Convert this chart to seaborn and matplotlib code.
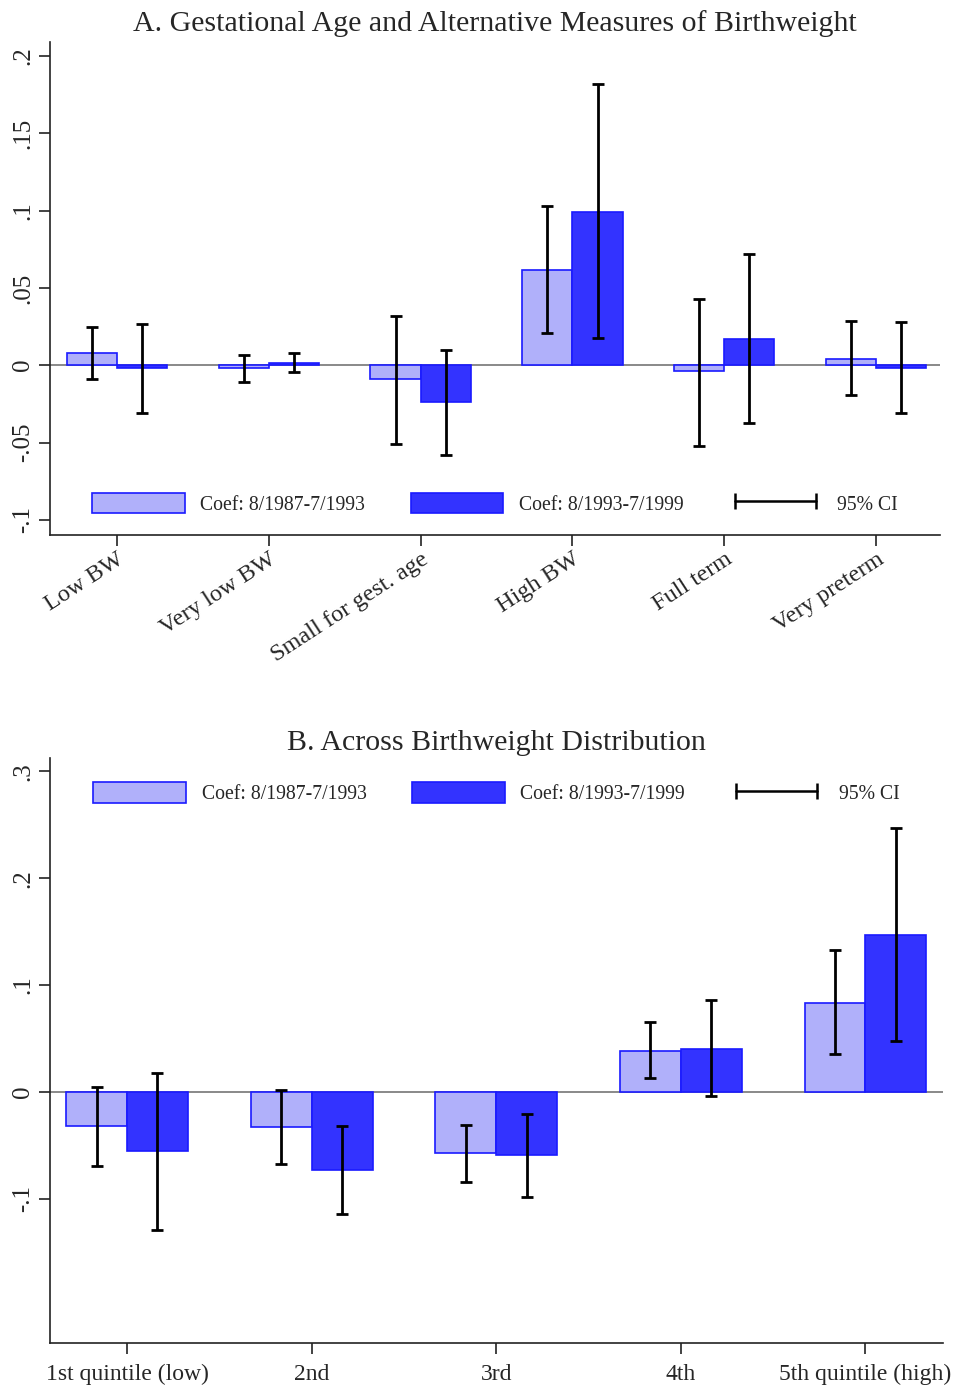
import numpy as np
import pandas as pd
import matplotlib
matplotlib.use("Agg")
import matplotlib.pyplot as plt
import seaborn as sns
from matplotlib.patches import Patch
from matplotlib.lines import Line2D

# ---------------- data ----------------
periods = ["Coef: 8/1987-7/1993", "Coef: 8/1993-7/1999"]

cats_a = ["Low BW", "Very low BW", "Small for gest. age", "High BW", "Full term", "Very preterm"]
coef_a_early = [0.008, -0.002, -0.009, 0.0615, -0.004, 0.004]
coef_a_late = [-0.002, 0.0015, -0.0235, 0.099, 0.017, -0.0015]
lo_a_early = [-0.009, -0.011, -0.051, 0.021, -0.0525, -0.0195]
hi_a_early = [0.025, 0.0065, 0.032, 0.103, 0.043, 0.0285]
lo_a_late = [-0.031, -0.0045, -0.058, 0.0175, -0.0375, -0.031]
hi_a_late = [0.0265, 0.008, 0.0097, 0.182, 0.072, 0.028]

cats_b = ["1st quintile (low)", "2nd", "3rd", "4th", "5th quintile (high)"]
coef_b_early = [-0.032, -0.033, -0.057, 0.0384, 0.083]
coef_b_late = [-0.055, -0.073, -0.059, 0.040, 0.147]
lo_b_early = [-0.069, -0.067, -0.084, 0.013, 0.0356]
hi_b_early = [0.0047, 0.0019, -0.031, 0.0655, 0.133]
lo_b_late = [-0.129, -0.114, -0.098, -0.004, 0.048]
hi_b_late = [0.0178, -0.032, -0.0206, 0.086, 0.247]

yticks_a = [-0.1, -0.05, 0, 0.05, 0.1, 0.15, 0.2]
yticklabels_a = ["-.1", "-.05", "0", ".05", ".1", ".15", ".2"]
yticks_b = [-0.1, 0, 0.1, 0.2, 0.3]
yticklabels_b = ["-.1", "0", ".1", ".2", ".3"]

title_a = "A. Gestational Age and Alternative Measures of Birthweight"
title_b = "B. Across Birthweight Distribution"

# ---------------- style ----------------
sns.set_theme(style="ticks")
plt.rcParams["font.family"] = ["Liberation Serif", "DejaVu Serif"]

light_fill = "#b0b0fa"
dark_fill = "#3333ff"
edge_col = "#1a1aff"

fig = plt.figure(figsize=(9.56, 13.88), dpi=100)
ax_a = fig.add_axes([0.0523, 0.6146, 0.931, 0.3552])
ax_b = fig.add_axes([0.0523, 0.0324, 0.9341, 0.4215])


def make_df(cats, early, late):
    return pd.DataFrame({
        "cat": cats * 2,
        "period": [periods[0]] * len(cats) + [periods[1]] * len(cats),
        "coef": list(early) + list(late),
    })


def draw(ax, cats, early, late, lo_e, hi_e, lo_l, hi_l, capsize):
    df = make_df(cats, early, late)
    sns.barplot(data=df, x="cat", y="coef", hue="period", order=cats,
                hue_order=periods, palette=[light_fill, dark_fill], saturation=1,
                width=0.66, edgecolor=edge_col, linewidth=1.2,
                errorbar=None, legend=False, ax=ax, zorder=2)
    ax.axhline(0, color="#808080", lw=1.3, zorder=1)
    for cont, lo, hi, val in zip(ax.containers, [lo_e, lo_l], [hi_e, hi_l], [early, late]):
        xs = [p.get_x() + p.get_width() / 2 for p in cont.patches]
        val = np.array(val)
        yerr = np.vstack([val - np.array(lo), np.array(hi) - val])
        ax.errorbar(xs, val, yerr=yerr, fmt="none", ecolor="black",
                    elinewidth=2.0, capsize=capsize, capthick=2.0, zorder=3)
    sns.despine(ax=ax)
    for s in ("left", "bottom"):
        ax.spines[s].set_linewidth(1.2)
        ax.spines[s].set_color("#222222")
    ax.set_xlabel("")
    ax.set_ylabel("")
    ax.tick_params(axis="both", direction="out", length=8, width=1.2, color="#222222")


def add_legend(ax, y):
    handles = [
        Patch(facecolor=light_fill, edgecolor=edge_col, linewidth=1.2),
        Patch(facecolor=dark_fill, edgecolor=edge_col, linewidth=1.2),
        Line2D([], [], color="black", lw=1.8, marker="|", markersize=11, markeredgewidth=1.8),
    ]
    labels = periods + ["95% CI"]
    ax.legend(handles, labels, loc="center", bbox_to_anchor=(0.5, y), ncol=3,
              frameon=False, fontsize=14.2, handlelength=4.7, handleheight=1.22,
              handletextpad=0.8, columnspacing=2.3, numpoints=2)


# Panel A
draw(ax_a, cats_a, coef_a_early, coef_a_late, lo_a_early, hi_a_early,
     lo_a_late, hi_a_late, capsize=4)
ax_a.set_xlim(-0.44, 5.42)
ax_a.set_ylim(-0.1097, 0.209)
ax_a.set_yticks(yticks_a)
ax_a.set_yticklabels(yticklabels_a, rotation=90, va="center", fontsize=18)
ax_a.set_xticks(range(len(cats_a)))
ax_a.set_xticklabels(cats_a, rotation=33, ha="right", rotation_mode="anchor", fontsize=17.5)
ax_a.tick_params(axis="x", pad=2)
ax_a.set_title(title_a, fontsize=21.5, pad=8)
add_legend(ax_a, 0.063)

# Panel B
draw(ax_b, cats_b, coef_b_early, coef_b_late, lo_b_early, hi_b_early,
     lo_b_late, hi_b_late, capsize=4.5)
ax_b.set_xlim(-0.417, 4.42)
ax_b.set_ylim(-0.235, 0.3125)
ax_b.set_yticks(yticks_b)
ax_b.set_yticklabels(yticklabels_b, rotation=90, va="center", fontsize=18)
ax_b.set_xticks(range(len(cats_b)))
ax_b.set_xticklabels(cats_b, fontsize=17)
ax_b.tick_params(axis="x", pad=7)
ax_b.set_title(title_b, fontsize=21.5, pad=6)
add_legend(ax_b, 0.940)

fig.savefig("out.png", dpi=100)
